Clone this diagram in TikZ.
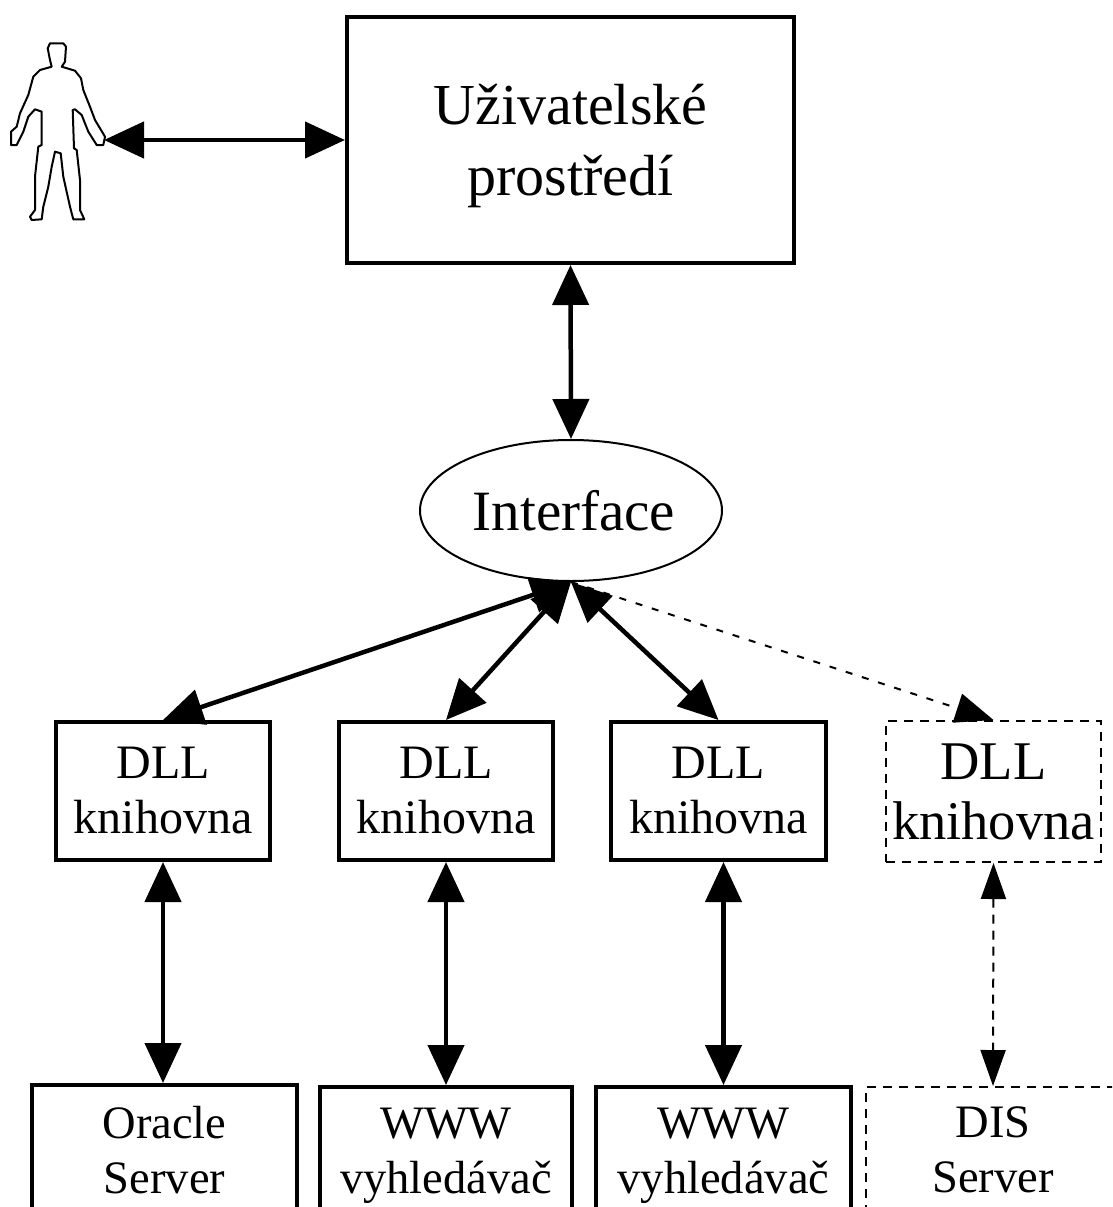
\documentclass[tikz,border=0pt]{standalone}
\usepackage{fontspec}
\setmainfont{Liberation Serif}
\usetikzlibrary{arrows.meta,shapes.geometric,calc}
\newcommand{\fsz}[2]{\fontsize{#1pt}{#2pt}\selectfont}
\tikzset{
  x=1pt,y=-1pt,
  box/.style={draw=black,line width=4pt,align=center,inner sep=0pt,anchor=center,text=black},
  dbox/.style={draw=black,line width=2pt,dash pattern=on 9pt off 7pt,align=center,inner sep=0pt},
  big/.style={font=\fsz{58}{71}},
  mid/.style={font=\fsz{48}{55}},
  midd/.style={font=\fsz{54.5}{60}},
  low/.style={font=\fsz{46.5}{55}},
  link/.style={line width=4.5pt,{Triangle[length=40pt,width=36pt]}-{Triangle[length=40pt,width=36pt]}},
  dlink/.style={line width=2pt,dash pattern=on 9pt off 7pt,{Triangle[length=36pt,width=25pt]}-{Triangle[length=36pt,width=25pt]}},
  dlinkb/.style={line width=2pt,dash pattern=on 7pt off 10pt,-{Triangle[length=38pt,width=30pt]}},
  figure/.style={draw=black,line width=2pt,fill=white,line join=round}
}
\begin{document}
\begin{tikzpicture}
\useasboundingbox (0,0) rectangle (1112,1207);
\clip (0,0) rectangle (1112,1207);
\node[box,big,minimum width=447pt,minimum height=246pt] (ui) at (570.5,140) {\rule{0pt}{52pt}Uživatelské\\prostředí};
\node[draw=black,line width=2pt,ellipse,inner sep=0pt,minimum width=302pt,minimum height=141pt,font=\fsz{57}{60}] (if) at (571,510.5) {\hspace*{6pt}Interface};
\node[box,mid,minimum width=214pt,minimum height=138pt] (d1) at (163,791) {DLL\\knihovna};
\node[box,mid,minimum width=214pt,minimum height=138pt] (d2) at (446,791) {DLL\\knihovna};
\node[box,mid,minimum width=215pt,minimum height=138pt] (d3) at (718.5,791) {DLL\\knihovna};
\node[dbox,midd,minimum width=215pt,minimum height=141pt] (d4) at (993.5,791.5) {DLL\\knihovna};
\node[box,low,minimum width=265pt,minimum height=130pt] (s1) at (164.5,1150) {Oracle\\Server};
\node[box,low,minimum width=252pt,minimum height=126pt] (s2) at (446,1150) {\rule{0pt}{42pt}WWW\\vyhledávač};
\node[box,low,minimum width=255pt,minimum height=126pt] (s3) at (723.5,1150) {\rule{0pt}{42pt}WWW\\vyhledávač};
\node[dbox,low,minimum width=254pt,minimum height=126pt] (s4) at (993,1150) {DIS\\Server};
% person
\draw[figure] (50,43.3) -- (63.3,43.3) -- (66,46.7) -- (65,61.7) -- (61.7,66.7) -- (75,70.7) -- (81,78.3) -- (83.3,90) -- (90,106.7) -- (95,120) -- (105,136.7) -- (103.3,145) -- (96.7,145) -- (88.3,131.7) -- (81.7,115) -- (75,109.3) -- (72.7,110) -- (74,148.3) -- (76.7,150) -- (80,180) -- (80,210) -- (84.3,219.3) -- (73.3,219.3) -- (70,206.7) -- (63.3,176.7) -- (60.7,153.3) -- (55,151.7) -- (51.7,166.7) -- (48.3,186.7) -- (43.3,206.7) -- (41.7,219.3) -- (31.7,220) -- (30,216.7) -- (35,210) -- (35,176.7) -- (38.3,146.7) -- (41.7,145) -- (41.7,111.7) -- (35,109.3) -- (28.3,116.7) -- (23.3,131.7) -- (16.7,145) -- (11,145) -- (11,131.7) -- (16.7,126.7) -- (20,113.3) -- (28.3,95) -- (33.3,76.7) -- (40,70) -- (51.7,66.7) -- (50,60) -- (47.7,48.3) -- cycle;
\coordinate (hand) at (104,140);
\draw[link] (hand) -- (hand -| ui.west);
\draw[link] (ui.south) -- (if.north);
\draw[link] (if.south) -- (d1.north);
\draw[link] (if.south) -- (d2.north);
\draw[link] (if.south) -- (d3.north);
\draw[dlinkb] (if.south) -- (d4.north);
\draw[link] (d1.south) -- (s1.north -| d1.south);
\draw[link] (d2.south) -- (s2.north);
\draw[link] (d3.south -| s3.north) -- (s3.north);
\draw[dlink] (d4.south) -- (s4.north);
\end{tikzpicture}
\end{document}
